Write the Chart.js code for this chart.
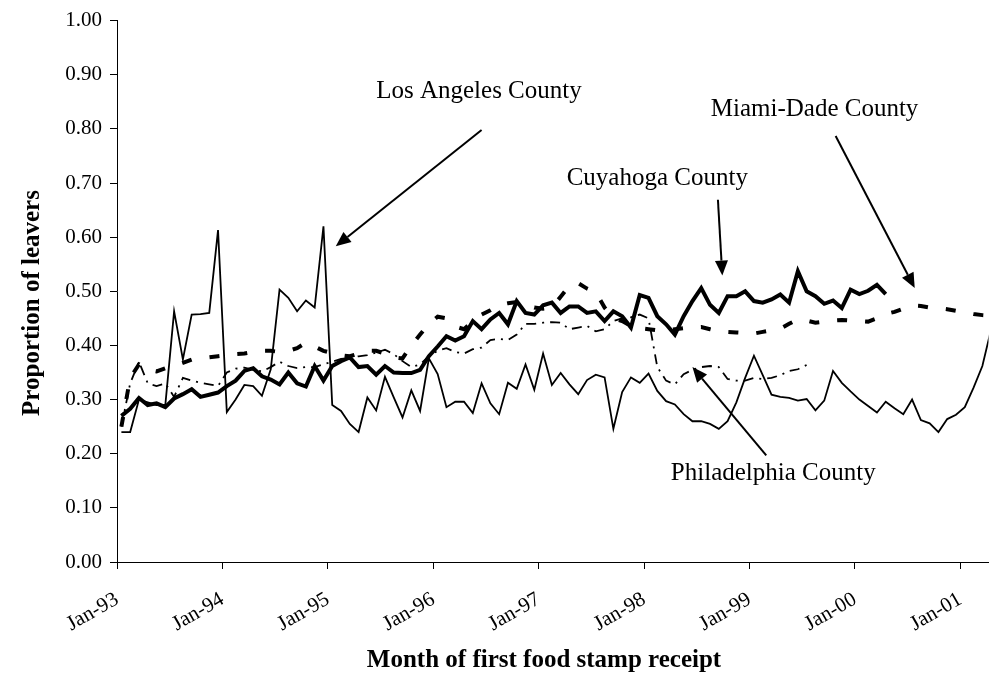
<!DOCTYPE html>
<html>
<head>
<meta charset="utf-8">
<script src="https://cdn.jsdelivr.net/npm/chart.js@4.4.1/dist/chart.umd.min.js"></script>
<style>
  html, body { margin: 0; padding: 0; background: #fff; }
</style>
</head>
<body>
<canvas id="chart" width="991" height="677"></canvas>
<script>
// x ticks: one per January, months counted from Jan-93
const yearTicks = ['Jan-93', 'Jan-94', 'Jan-95', 'Jan-96', 'Jan-97', 'Jan-98', 'Jan-99', 'Jan-00', 'Jan-01'];
const tickMonths = [0, 12, 24, 36, 48, 60, 72, 84, 96];
const yTickValues = [0, 0.1, 0.2, 0.3, 0.4, 0.5, 0.6, 0.7, 0.8, 0.9, 1.0];

// monthly proportions, first value = Jan-93
const losAngeles = [
  0.24, 0.24, 0.30, 0.295, 0.29, 0.29, 0.463, 0.374, 0.457, 0.458,
  0.46, 0.613, 0.277, 0.30, 0.327, 0.325, 0.307, 0.356, 0.503, 0.488,
  0.463, 0.483, 0.47, 0.62, 0.29, 0.279, 0.255, 0.24, 0.304, 0.28,
  0.342, 0.304, 0.267, 0.317, 0.279, 0.376, 0.347, 0.286, 0.296, 0.296,
  0.275, 0.33, 0.293, 0.273, 0.331, 0.32, 0.365, 0.318, 0.385, 0.327,
  0.349, 0.328, 0.31, 0.336, 0.346, 0.341, 0.246, 0.314, 0.341, 0.331,
  0.348, 0.316, 0.297, 0.291, 0.273, 0.26, 0.26, 0.255, 0.246, 0.26,
  0.295, 0.34, 0.381, 0.345, 0.309, 0.305, 0.303, 0.298, 0.301, 0.28,
  0.298, 0.353, 0.331, 0.315, 0.30, 0.288, 0.276, 0.296, 0.284, 0.273,
  0.30, 0.262, 0.256, 0.24, 0.264, 0.272, 0.286, 0.322, 0.362, 0.43
];
const cuyahoga = [
  0.27, 0.283, 0.303, 0.29, 0.293, 0.286, 0.302, 0.31, 0.319, 0.305,
  0.309, 0.313, 0.325, 0.335, 0.353, 0.358, 0.343, 0.337, 0.328, 0.35,
  0.33, 0.324, 0.362, 0.335, 0.362, 0.371, 0.378, 0.36, 0.362, 0.346,
  0.362, 0.35, 0.349, 0.349, 0.355, 0.38, 0.398, 0.417, 0.409, 0.417,
  0.445, 0.43, 0.448, 0.46, 0.439, 0.482, 0.46, 0.457, 0.474, 0.479,
  0.46, 0.472, 0.472, 0.46, 0.463, 0.445, 0.463, 0.454, 0.433, 0.493,
  0.488, 0.454, 0.439, 0.42, 0.454, 0.482, 0.506, 0.475, 0.46, 0.491,
  0.491, 0.50, 0.482, 0.479, 0.485, 0.494, 0.479, 0.537, 0.50, 0.491,
  0.477, 0.483, 0.469, 0.503, 0.495, 0.501, 0.512, 0.495
];
const miamiDade = [
  0.25, 0.34, 0.365, 0.355, 0.352, 0.358, 0.362, 0.368, 0.374, 0.376,
  0.378, 0.38, 0.382, 0.384, 0.385, 0.388, 0.39, 0.39, 0.388, 0.39,
  0.395, 0.405, 0.398, 0.39, 0.386, 0.382, 0.38, 0.385, 0.39, 0.39,
  0.385, 0.378, 0.376, 0.40, 0.42, 0.44, 0.453, 0.45, 0.435, 0.43,
  0.445, 0.457, 0.465, 0.475, 0.478, 0.48, 0.475, 0.47, 0.468, 0.47,
  0.49, 0.51, 0.515, 0.505, 0.498, 0.47, 0.45, 0.445, 0.436, 0.432,
  0.43, 0.428, 0.428, 0.43, 0.432, 0.433, 0.434, 0.43, 0.426, 0.425,
  0.424, 0.423, 0.422, 0.425, 0.428, 0.431, 0.44, 0.448, 0.446, 0.442,
  0.444, 0.446, 0.447, 0.446, 0.445, 0.444, 0.45, 0.458, 0.462, 0.468,
  0.474, 0.473, 0.47, 0.469, 0.467, 0.464, 0.461, 0.458, 0.456, 0.455
];
const philadelphia = [
  0.25, 0.33, 0.37, 0.33, 0.325, 0.33, 0.305, 0.34, 0.335, 0.331,
  0.328, 0.325, 0.35, 0.357, 0.359, 0.355, 0.352, 0.36, 0.37, 0.362,
  0.358, 0.36, 0.36, 0.365, 0.37, 0.375, 0.377, 0.38, 0.382, 0.387,
  0.392, 0.384, 0.371, 0.36, 0.365, 0.38, 0.39, 0.395, 0.388, 0.385,
  0.393, 0.396, 0.41, 0.412, 0.41, 0.42, 0.44, 0.44, 0.442, 0.443,
  0.442, 0.43, 0.433, 0.436, 0.426, 0.43, 0.445, 0.45, 0.452, 0.457,
  0.45, 0.36, 0.335, 0.328, 0.347, 0.355, 0.36, 0.362, 0.36, 0.338,
  0.335, 0.335, 0.34, 0.338, 0.34, 0.345, 0.353, 0.356, 0.364
];

// callout labels and arrows, in chart units (months, proportion)
const notes = [
  { text: 'Los Angeles County', x: 41.2, y: 0.869 },
  { text: 'Cuyahoga County', x: 61.5, y: 0.708 },
  { text: 'Miami-Dade County', x: 79.4, y: 0.835 },
  { text: 'Philadelphia County', x: 74.7, y: 0.164 }
];
const arrows = [
  { from: [41.5, 0.798], to: [24.9, 0.583] },
  { from: [68.4, 0.669], to: [68.9, 0.529] },
  { from: [81.8, 0.787], to: [90.8, 0.506] },
  { from: [73.9, 0.197], to: [65.5, 0.36] }
];

// points sit in the middle of their month
const toPoints = arr => arr.map((v, i) => ({ x: i + 0.5, y: v }));

const serif = 'Liberation Serif, Times New Roman, serif';

const annotate = {
  id: 'annotate',
  afterDatasetsDraw(chart) {
    const { ctx } = chart;
    const xs = chart.scales.x, ys = chart.scales.y;
    ctx.save();
    ctx.fillStyle = '#000';
    ctx.strokeStyle = '#000';
    ctx.font = '25px ' + serif;
    ctx.textAlign = 'center';
    ctx.textBaseline = 'middle';
    notes.forEach(n => ctx.fillText(n.text, xs.getPixelForValue(n.x), ys.getPixelForValue(n.y)));

    ctx.lineWidth = 2;
    arrows.forEach(a => {
      const x1 = xs.getPixelForValue(a.from[0]), y1 = ys.getPixelForValue(a.from[1]);
      const x2 = xs.getPixelForValue(a.to[0]), y2 = ys.getPixelForValue(a.to[1]);
      const ang = Math.atan2(y2 - y1, x2 - x1);
      const len = 15, half = 6.5;
      const bx = x2 - len * Math.cos(ang), by = y2 - len * Math.sin(ang);
      ctx.beginPath();
      ctx.moveTo(x1, y1);
      ctx.lineTo(bx, by);
      ctx.stroke();
      ctx.beginPath();
      ctx.moveTo(x2, y2);
      ctx.lineTo(bx + half * Math.sin(ang), by - half * Math.cos(ang));
      ctx.lineTo(bx - half * Math.sin(ang), by + half * Math.cos(ang));
      ctx.closePath();
      ctx.fill();
    });

    // axis titles
    ctx.font = 'bold 25px ' + serif;
    ctx.fillText('Month of first food stamp receipt', 544, 661);
    ctx.translate(33, 303);
    ctx.rotate(-Math.PI / 2);
    ctx.fillText('Proportion of leavers', 0, 0);
    ctx.restore();
  }
};

new Chart(document.getElementById('chart'), {
  type: 'line',
  data: {
    datasets: [
      { label: 'Los Angeles County', data: toPoints(losAngeles), borderColor: '#000', borderWidth: 1.8 },
      { label: 'Philadelphia County', data: toPoints(philadelphia), borderColor: '#000', borderWidth: 1.8, borderDash: [10, 6, 2, 6] },
      { label: 'Miami-Dade County', data: toPoints(miamiDade), borderColor: '#000', borderWidth: 4, borderDash: [10, 18] },
      { label: 'Cuyahoga County', data: toPoints(cuyahoga), borderColor: '#000', borderWidth: 4 }
    ]
  },
  options: {
    responsive: false,
    animation: false,
    events: [],
    elements: { point: { radius: 0 }, line: { tension: 0, fill: false } },
    layout: { padding: { top: 18, left: 0, right: 0, bottom: 0 } },
    plugins: { legend: { display: false }, tooltip: { enabled: false } },
    scales: {
      x: {
        type: 'linear',
        min: 0,
        max: 99.2,
        afterBuildTicks: s => { s.ticks = tickMonths.map(v => ({ value: v })); },
        afterFit: s => { s.height = 115; },
        grid: { display: true, drawOnChartArea: false, drawTicks: true, tickLength: 7, color: '#000' },
        border: { display: true, color: '#000', width: 1 },
        ticks: {
          autoSkip: false,
          minRotation: 30,
          maxRotation: 30,
          padding: 18,
          color: '#000',
          font: { family: serif, size: 21 },
          callback: v => yearTicks[tickMonths.indexOf(v)]
        }
      },
      y: {
        min: 0,
        max: 1,
        afterBuildTicks: s => { s.ticks = yTickValues.map(v => ({ value: v })); },
        afterFit: s => { s.width = 117; },
        grid: { display: true, drawOnChartArea: false, drawTicks: true, tickLength: 7, color: '#000' },
        border: { display: true, color: '#000', width: 1 },
        ticks: {
          padding: 8,
          color: '#000',
          font: { family: serif, size: 21 },
          callback: v => v.toFixed(2)
        }
      }
    }
  },
  plugins: [annotate]
});
</script>
</body>
</html>
